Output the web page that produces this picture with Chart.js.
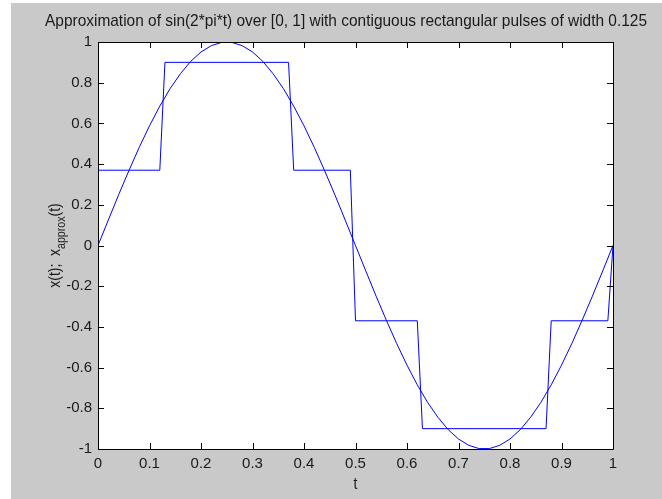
<!DOCTYPE html>
<html>
<head>
<meta charset="utf-8">
<script src="https://cdn.jsdelivr.net/npm/chart.js@4/dist/chart.umd.min.js"></script>
<style>
    html, body { margin: 0; padding: 0; background: #ffffff; }
    canvas { display: block; }
</style>
</head>
<body>
<canvas id="chart" width="662" height="499"></canvas>
<script>
// 采样点 t 与正弦曲线 sin(2*pi*t)
const sineT = [0, 0.02, 0.04, 0.06, 0.08, 0.10, 0.12, 0.14, 0.16, 0.18,
    0.20, 0.22, 0.24, 0.26, 0.28, 0.30, 0.32, 0.34, 0.36, 0.38,
    0.40, 0.42, 0.44, 0.46, 0.48, 0.50, 0.52, 0.54, 0.56, 0.58,
    0.60, 0.62, 0.64, 0.66, 0.68, 0.70, 0.72, 0.74, 0.76, 0.78,
    0.80, 0.82, 0.84, 0.86, 0.88, 0.90, 0.92, 0.94, 0.96, 0.98, 1.00];
const sineValues = [0, 0.125, 0.249, 0.368, 0.482, 0.588, 0.685, 0.771, 0.844, 0.905,
    0.951, 0.982, 0.998, 0.998, 0.982, 0.951, 0.905, 0.844, 0.771, 0.685,
    0.588, 0.482, 0.368, 0.249, 0.125, 0, -0.125, -0.249, -0.368, -0.482,
    -0.588, -0.685, -0.771, -0.844, -0.905, -0.951, -0.982, -0.998, -0.998, -0.982,
    -0.951, -0.905, -0.844, -0.771, -0.685, -0.588, -0.482, -0.368, -0.249, -0.125, 0];

// 矩形脉冲近似
const pulseT = [0, 0.12, 0.13, 0.37, 0.38, 0.49, 0.50, 0.62, 0.63, 0.87, 0.88, 0.99, 1.00];
const pulseValues = [0.37, 0.37, 0.9, 0.9, 0.37, 0.37, -0.37, -0.37, -0.9, -0.9, -0.37, -0.37, 0];

// 刻度
const xTicks = [0, 0.1, 0.2, 0.3, 0.4, 0.5, 0.6, 0.7, 0.8, 0.9, 1];
const yTicks = [-1, -0.8, -0.6, -0.4, -0.2, 0, 0.2, 0.4, 0.6, 0.8, 1];

const titleText = 'Approximation of sin(2*pi*t) over [0, 1] with contiguous rectangular pulses of width 0.125';

const FONT = '"Liberation Sans", Arial, sans-serif';
const FIG_GRAY = '#c9c9c9';
const TEXT_COLOR = '#1a1a1a';
const NARROW = 0.82; // 模拟 MATLAB 的窄体字

function zip(xs, ys) {
    return xs.map((x, i) => ({ x: x, y: ys[i] }));
}

function fmt(v) {
    return String(Math.round(v * 10) / 10);
}

// 横向压缩绘制文字
function narrowText(ctx, text, x, y, size, align, squeeze) {
    const k = squeeze || NARROW;
    ctx.save();
    ctx.font = size + 'px ' + FONT;
    const w = ctx.measureText(text).width * k;
    let left = x;
    if (align === 'center') left = x - w / 2;
    ctx.translate(left, y);
    ctx.scale(k, 1);
    ctx.textAlign = 'left';
    ctx.fillText(text, 0, 0);
    ctx.restore();
    return w;
}

// MATLAB 风格外框、内向刻度与文字
const matlabFrame = {
    id: 'matlabFrame',
    beforeDraw(chart) {
        const ctx = chart.ctx;
        const a = chart.chartArea;
        ctx.save();
        ctx.fillStyle = '#ffffff';
        ctx.fillRect(0, 0, chart.width, chart.height);
        ctx.fillStyle = FIG_GRAY;
        ctx.fillRect(11, 3, chart.width - 11, chart.height - 3);
        ctx.fillStyle = '#ffffff';
        ctx.fillRect(a.left, a.top, a.right - a.left, a.bottom - a.top);
        ctx.restore();
    },
    afterDraw(chart) {
        const ctx = chart.ctx;
        const a = chart.chartArea;
        const xs = chart.scales.x;
        const ys = chart.scales.y;
        const len = 6;
        ctx.save();
        ctx.strokeStyle = '#000000';
        ctx.lineWidth = 1;
        ctx.beginPath();
        ctx.rect(Math.round(a.left) + 0.5, Math.round(a.top) + 0.5,
            Math.round(a.right - a.left), Math.round(a.bottom - a.top));
        xTicks.forEach(v => {
            const px = Math.round(xs.getPixelForValue(v)) + 0.5;
            ctx.moveTo(px, a.bottom);
            ctx.lineTo(px, a.bottom - len);
            ctx.moveTo(px, a.top);
            ctx.lineTo(px, a.top + len);
        });
        yTicks.forEach(v => {
            const py = Math.round(ys.getPixelForValue(v)) + 0.5;
            ctx.moveTo(a.left, py);
            ctx.lineTo(a.left + len, py);
            ctx.moveTo(a.right, py);
            ctx.lineTo(a.right - len, py);
        });
        ctx.stroke();

        ctx.fillStyle = TEXT_COLOR;
        ctx.textBaseline = 'alphabetic';
        // 标题：铺满 45..647
        ctx.font = '17px ' + FONT;
        const titleK = 602 / ctx.measureText(titleText).width;
        narrowText(ctx, titleText, 45, 26, 17, 'left', titleK);

        // x 轴标题
        narrowText(ctx, 't', (a.left + a.right) / 2, 489, 17, 'center');

        // y 轴标题（带下标）
        ctx.font = '17px ' + FONT;
        const w1 = ctx.measureText('x(t);  x').width * NARROW;
        const w3 = ctx.measureText('(t)').width * NARROW;
        ctx.font = '13px ' + FONT;
        const w2 = ctx.measureText('approx').width * NARROW;
        const total = w1 + w2 + w3;
        ctx.translate(60, (a.top + a.bottom) / 2);
        ctx.rotate(-Math.PI / 2);
        const x0 = -total / 2;
        narrowText(ctx, 'x(t);  x', x0, 0, 17, 'left');
        narrowText(ctx, 'approx', x0 + w1, 5, 13, 'left');
        narrowText(ctx, '(t)', x0 + w1 + w2, 0, 17, 'left');
        ctx.restore();
    }
};

const ctx = document.getElementById('chart').getContext('2d');
const chart = new Chart(ctx, {
    type: 'line',
    data: {
        datasets: [{
            label: 'x(t)',
            data: zip(sineT, sineValues),
            borderColor: '#0000ff',
            borderWidth: 1,
            pointRadius: 0,
            tension: 0,
            fill: false
        }, {
            label: 'x_approx(t)',
            data: zip(pulseT, pulseValues),
            borderColor: '#0000ff',
            borderWidth: 1,
            pointRadius: 0,
            tension: 0,
            fill: false
        }]
    },
    options: {
        responsive: false,
        animation: false,
        devicePixelRatio: 1,
        layout: {
            padding: { top: 42, right: 49, left: 0, bottom: 0 }
        },
        plugins: {
            legend: { display: false },
            title: { display: false },
            tooltip: { enabled: false }
        },
        scales: {
            x: {
                type: 'linear',
                min: 0,
                max: 1,
                afterFit(scale) { scale.height = 50; },
                afterBuildTicks(scale) { scale.ticks = xTicks.map(v => ({ value: v })); },
                grid: { display: false, drawTicks: false },
                border: { display: false },
                ticks: {
                    padding: 6,
                    color: TEXT_COLOR,
                    maxRotation: 0,
                    autoSkip: false,
                    font: { family: FONT, size: 15 },
                    callback: fmt
                }
            },
            y: {
                type: 'linear',
                min: -1,
                max: 1,
                afterFit(scale) { scale.width = 98; },
                afterBuildTicks(scale) { scale.ticks = yTicks.map(v => ({ value: v })); },
                grid: { display: false, drawTicks: false },
                border: { display: false },
                ticks: {
                    padding: 6,
                    color: TEXT_COLOR,
                    autoSkip: false,
                    font: { family: FONT, size: 15 },
                    callback: fmt
                }
            }
        }
    },
    plugins: [matlabFrame]
});
</script>
</body>
</html>
